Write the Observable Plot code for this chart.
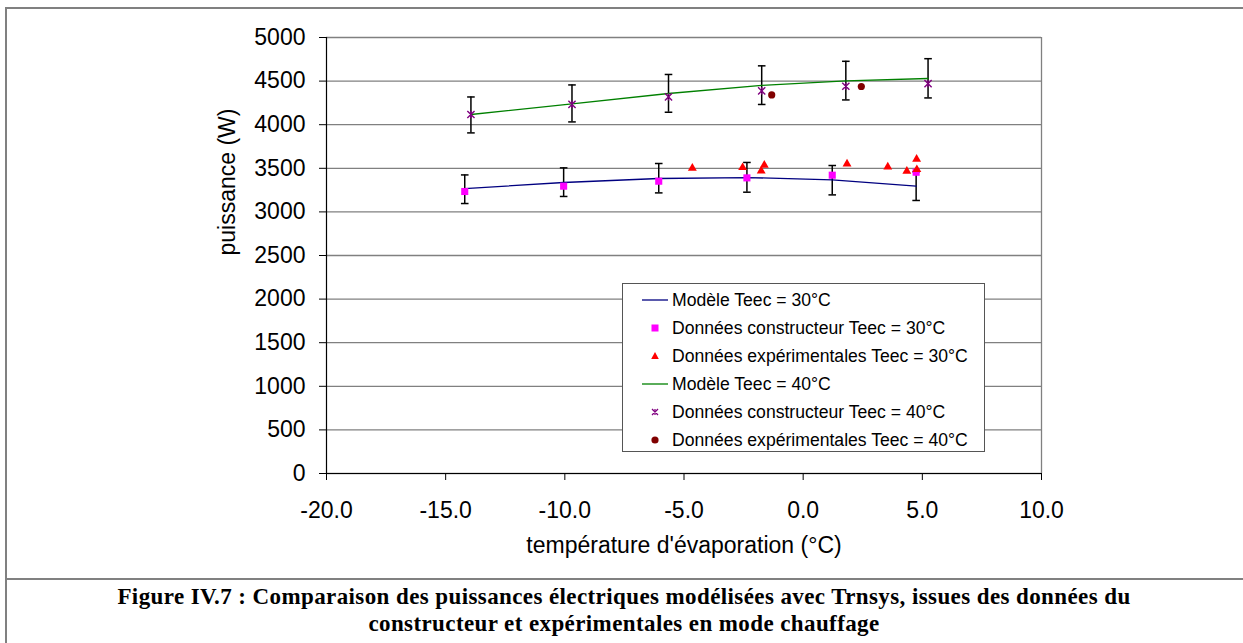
<!DOCTYPE html>
<html>
<head>
<meta charset="utf-8">
<script src="https://cdn.jsdelivr.net/npm/d3@7"></script>
<script src="https://cdn.jsdelivr.net/npm/@observablehq/plot@0.6"></script>
<style>
  html, body { margin: 0; padding: 0; background: #fff; }
  #wrap { position: relative; width: 1243px; height: 643px; overflow: hidden; font-family: "Liberation Sans", Arial, sans-serif; }
  #frame { position: absolute; left: 5px; top: 7px; width: 1238px; height: 640px; border-left: 2px solid #808080; border-top: 2px solid #808080; box-sizing: border-box; }
  #sep { position: absolute; left: 5px; top: 578px; width: 1238px; height: 2px; background: #808080; }
  #chart { position: absolute; left: 0; top: 0; }
  #legend { position: absolute; left: 622px; top: 283px; width: 363px; height: 169px; box-sizing: border-box; border: 1.5px solid #555; background: #fff; padding-top: 2px; }
  .row { height: 28px; display: flex; align-items: center; font-size: 17.6px; color: #000; white-space: nowrap; }
  .row svg { margin-left: 19px; margin-right: 4px; flex: none; }
  #caption { position: absolute; left: 5px; top: 580px; width: 1238px; text-align: center; font-family: "Liberation Serif", "Times New Roman", serif; font-weight: bold; font-size: 23px; letter-spacing: 0.4px; line-height: 26.6px; padding-top: 4px; color: #000; }
</style>
</head>
<body>
<div id="wrap">
  <div id="frame"></div>
  <div id="sep"></div>
  <div id="chart"></div>
  <div id="legend"></div>
  <div id="caption">Figure IV.7 : Comparaison des puissances électriques modélisées avec Trnsys, issues des données du<br>constructeur et expérimentales en mode chauffage</div>
</div>
<script>
// ---- data ----
const xTicks = [-20, -15, -10, -5, 0, 5, 10];
const yTicks = [0, 500, 1000, 1500, 2000, 2500, 3000, 3500, 4000, 4500, 5000];

const xModel30 = [-14.2, -10.05, -6.06, -2.36, 1.22, 4.74];
const yModel30 = [3268, 3337, 3383, 3394, 3367, 3295];
const yConst30 = [3234, 3295, 3352, 3390, 3421, 3455];
const errLow30 = [3096, 3177, 3218, 3226, 3195, 3131];
const errHigh30 = [3424, 3505, 3555, 3567, 3532, 3460];
const xExp30 = [-4.65, -2.54, -1.76, -1.63, 1.84, 3.55, 4.35, 4.76, 4.77];
const yExp30 = [3501, 3509, 3470, 3536, 3551, 3516, 3467, 3604, 3486];

const xModel40 = [-13.94, -9.70, -5.65, -1.74, 1.79, 5.24];
const yModel40 = [4117, 4240, 4358, 4450, 4502, 4530];
const yConst40 = [4117, 4232, 4319, 4388, 4441, 4472];
const errLow40 = [3906, 4032, 4143, 4232, 4284, 4307];
const errHigh40 = [4318, 4456, 4576, 4675, 4727, 4757];
const xExp40 = [-1.32, 2.44];
const yExp40 = [4342, 4438];

const legendLabels = [
  "Modèle Teec = 30°C",
  "Données constructeur Teec = 30°C",
  "Données expérimentales Teec = 30°C",
  "Modèle Teec = 40°C",
  "Données constructeur Teec = 40°C",
  "Données expérimentales Teec = 40°C"
];
const xTitle = "température d'évaporation (°C)";
const yTitle = "puissance (W)";

// ---- colours ----
const cModel30 = "#000080", cConst30 = "#FF00FF", cExp30 = "#FF0000";
const cModel40 = "#008000", cConst40 = "#800080", cExp40 = "#800000";

// ---- tables ----
const model30 = xModel30.map((x, i) => ({x, y: yModel30[i], c: yConst30[i], lo: errLow30[i], hi: errHigh30[i]}));
const model40 = xModel40.map((x, i) => ({x, y: yModel40[i], c: yConst40[i], lo: errLow40[i], hi: errHigh40[i]}));
const exp30 = xExp30.map((x, i) => ({x, y: yExp30[i]}));
const exp40 = xExp40.map((x, i) => ({x, y: yExp40[i]}));

// custom symbols
const capSymbol = { draw(ctx, size) { const r = Math.sqrt(size / Math.PI); ctx.moveTo(-r, 0); ctx.lineTo(r, 0); } };
const starSymbol = { draw(ctx, size) {
  const r = Math.sqrt(size / Math.PI);
  ctx.moveTo(-r, -r); ctx.lineTo(r, r);
  ctx.moveTo(-r, r); ctx.lineTo(r, -r);
  ctx.moveTo(0, -r); ctx.lineTo(0, -r * 0.45);
  ctx.moveTo(0, r); ctx.lineTo(0, r * 0.45);
} };

const errAll = model30.concat(model40);

const chart = Plot.plot({
  width: 1243,
  height: 579,
  marginLeft: 326,
  marginRight: 202,
  marginTop: 37,
  marginBottom: 106,
  style: { fontFamily: "'Liberation Sans', Arial, sans-serif", background: "transparent", overflow: "visible", color: "#000" },
  x: { domain: [-20, 10] },
  y: { domain: [0, 5000] },
  marks: [
    Plot.gridY(yTicks, { stroke: "#808080", strokeOpacity: 1, strokeWidth: 1.3 }),
    Plot.ruleX([10], { stroke: "#808080", strokeWidth: 1.3 }),
    Plot.ruleX([-20], { stroke: "#000", strokeWidth: 1.2 }),
    Plot.ruleY([0], { stroke: "#000", strokeWidth: 1.2 }),
    Plot.axisX(xTicks, { tickSize: 7, tickPadding: 21, fontSize: 23, tickFormat: d => d.toFixed(1), label: null, stroke: "#000" }),
    Plot.axisY(yTicks, { tickSize: 7, tickPadding: 14, fontSize: 23, tickFormat: d => String(d), label: null, stroke: "#000" }),
    Plot.text([xTitle], { frameAnchor: "bottom", dy: 79, fontSize: 23 }),
    Plot.text([yTitle], { frameAnchor: "left", dx: -99, rotate: -90, fontSize: 23 }),
    // error bars
    Plot.ruleX(errAll, { x: "x", y1: "lo", y2: "hi", stroke: "#000", strokeWidth: 1.5 }),
    Plot.dot(errAll, { x: "x", y: "lo", symbol: capSymbol, r: 3.8, stroke: "#000", strokeWidth: 1.5, fill: "none" }),
    Plot.dot(errAll, { x: "x", y: "hi", symbol: capSymbol, r: 3.8, stroke: "#000", strokeWidth: 1.5, fill: "none" }),
    // models
    Plot.line(model30, { x: "x", y: "y", stroke: cModel30, strokeWidth: 1.3 }),
    Plot.line(model40, { x: "x", y: "y", stroke: cModel40, strokeWidth: 1.3 }),
    // constructor data
    Plot.dot(model30, { x: "x", y: "c", symbol: "square", r: 4, fill: cConst30, stroke: "none" }),
    Plot.dot(model40, { x: "x", y: "c", symbol: starSymbol, r: 3.6, stroke: cConst40, strokeWidth: 1.4, fill: "none" }),
    // experimental data
    Plot.dot(exp30, { x: "x", y: "y", symbol: "triangle", r: 3.3, fill: cExp30, stroke: "none" }),
    Plot.dot(exp40, { x: "x", y: "y", symbol: "circle", r: 3.6, fill: cExp40, stroke: "none" })
  ]
});
document.getElementById("chart").appendChild(chart);

// ---- legend (HTML) ----
const legendSwatches = [
  `<line x1="0" y1="8" x2="26" y2="8" stroke="${cModel30}" stroke-width="1.3"/>`,
  `<rect x="9.5" y="4.5" width="7" height="7" fill="${cConst30}"/>`,
  `<path d="M13,4 L16.8,11 L9.2,11 Z" fill="${cExp30}"/>`,
  `<line x1="0" y1="8" x2="26" y2="8" stroke="${cModel40}" stroke-width="1.3"/>`,
  `<path d="M10,5 L16,11 M10,11 L16,5 M13,5 L13,6.5 M13,11 L13,9.5" stroke="${cConst40}" stroke-width="1.3" fill="none"/>`,
  `<circle cx="13" cy="8" r="3.6" fill="${cExp40}"/>`
];
const leg = d3.select("#legend");
legendLabels.forEach((lab, i) => {
  const row = leg.append("div").attr("class", "row");
  row.html(`<svg width="26" height="16">${legendSwatches[i]}</svg><span>${lab}</span>`);
});
</script>
</body>
</html>
